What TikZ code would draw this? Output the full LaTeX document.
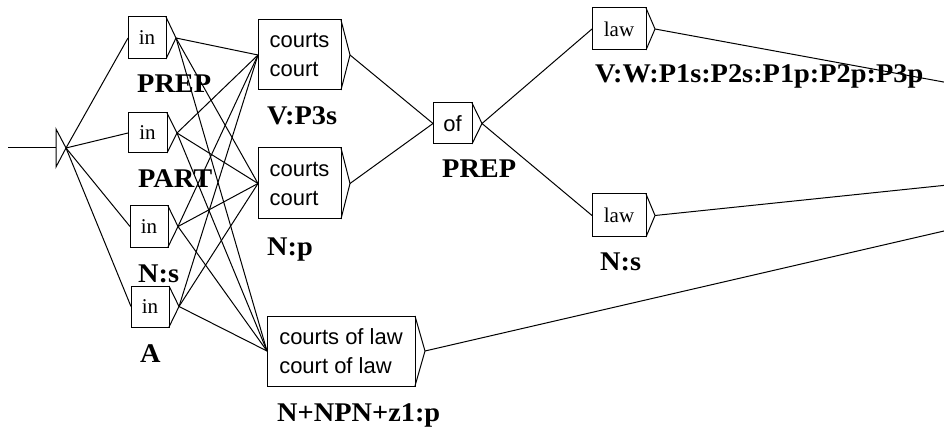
\documentclass[tikz,border=0pt]{standalone}
\usepackage{fontspec}
\newfontfamily\labfont{Liberation Serif}[FakeStretch=1.05]
\newfontfamily\serfont{Liberation Serif}
\newfontfamily\sanfont{Liberation Sans}
\usetikzlibrary{calc}
\tikzset{
  stbox/.style={draw, line width=1pt, inner sep=0pt, outer sep=0pt},
  inbox/.style={stbox, font=\serfont\fontsize{21}{25}\selectfont},
  cbox/.style={stbox, font=\sanfont\fontsize{22}{29}\selectfont, align=left},
  lab/.style={anchor=base west, inner sep=0pt, font=\labfont\bfseries\fontsize{27}{32}\selectfont},
  edge/.style={line width=1pt},
  tri/.style={line width=1pt, line join=miter},
}
\begin{document}
\begin{tikzpicture}[x=1pt,y=-1pt]
\useasboundingbox (0,0) rectangle (944,430);
\clip (0,0) rectangle (944,430);
% initial state
\coordinate (start) at (8,148);
\coordinate (i0) at (56,148);
\coordinate (i0a) at (56,129);
\coordinate (i0b) at (56,167);
\coordinate (i0t) at (66,148);
\draw[edge] (start) -- (i0);
\draw[tri] (i0a) -- (i0t) -- (i0b) -- cycle;
% in boxes
\node[inbox, minimum width=38pt, minimum height=42pt] (in1) at (147,38) {in};
\coordinate (in1t) at (176,38);
\node[inbox, minimum width=39pt, minimum height=40pt] (in2) at (147.5,133) {in};
\coordinate (in2t) at (177,133);
\node[inbox, minimum width=38pt, minimum height=41pt] (in3) at (149,226.5) {in};
\coordinate (in3t) at (178,226.5);
\node[inbox, minimum width=38pt, minimum height=41pt] (in4) at (150,306.5) {in};
\coordinate (in4t) at (179,306.5);
% courts boxes
\node[cbox, minimum width=83pt, minimum height=70pt] (c1) at (299.5,55) {courts\\court};
\coordinate (c1t) at (350,55);
\node[cbox, minimum width=83pt, minimum height=71pt] (c2) at (299.5,183.5) {courts\\court};
\coordinate (c2t) at (350,183.5);
\node[cbox, minimum width=148pt, minimum height=70pt] (col) at (341,351) {courts of law\\court of law};
\coordinate (colt) at (425,351);
% of
\node[cbox, minimum width=39pt, minimum height=41pt] (of) at (452.5,123.5) {of};
\coordinate (oft) at (482,123.5);
% law
\node[inbox, minimum width=54pt, minimum height=42pt] (law1) at (619,29) {law};
\coordinate (law1t) at (655,29);
\node[inbox, minimum width=54pt, minimum height=43pt] (law2) at (619,215.5) {law};
\coordinate (law2t) at (655,215.5);
% final (off picture)
\coordinate (fin) at (1303,148);
% triangles
\foreach \n in {in1,in2,in3,in4,c1,c2,col,of,law1,law2}{
  \draw[tri] (\n.north east) -- (\n t) -- (\n.south east);
}
% edges
\foreach \n in {in1,in2,in3,in4}{
  \draw[edge] (i0t) -- (\n.west);
  \draw[edge] (\n t) -- (c1.west);
  \draw[edge] (\n t) -- (c2.west);
  \draw[edge] (\n t) -- (col.west);
}
\draw[edge] (c1t) -- (of.west);
\draw[edge] (c2t) -- (of.west);
\draw[edge] (oft) -- (law1.west);
\draw[edge] (oft) -- (law2.west);
\draw[edge] (law1t) -- (fin);
\draw[edge] (law2t) -- (fin);
\draw[edge] (colt) -- (fin);
% labels
\node[lab] (lPREP1) at (137,93) {PREP};
\node[lab] (lPART) at (138,188) {PART};
\node[lab] (lNs1) at (138,282) {N:s};
\node[lab] (lA) at (140,362) {A};
\node[lab] (lVP3s) at (267,125) {V:P3s};
\node[lab] (lNp) at (267,255) {N:p};
\node[lab] (lPREP2) at (442,178) {PREP};
\node[lab] (lVW) at (595,83) {V:W:P1s:P2s:P1p:P2p:P3p};
\node[lab] (lNs2) at (600,270) {N:s};
\node[lab] (lNNPN) at (277,421) {N+NPN+z1:p};
\end{tikzpicture}
\end{document}
